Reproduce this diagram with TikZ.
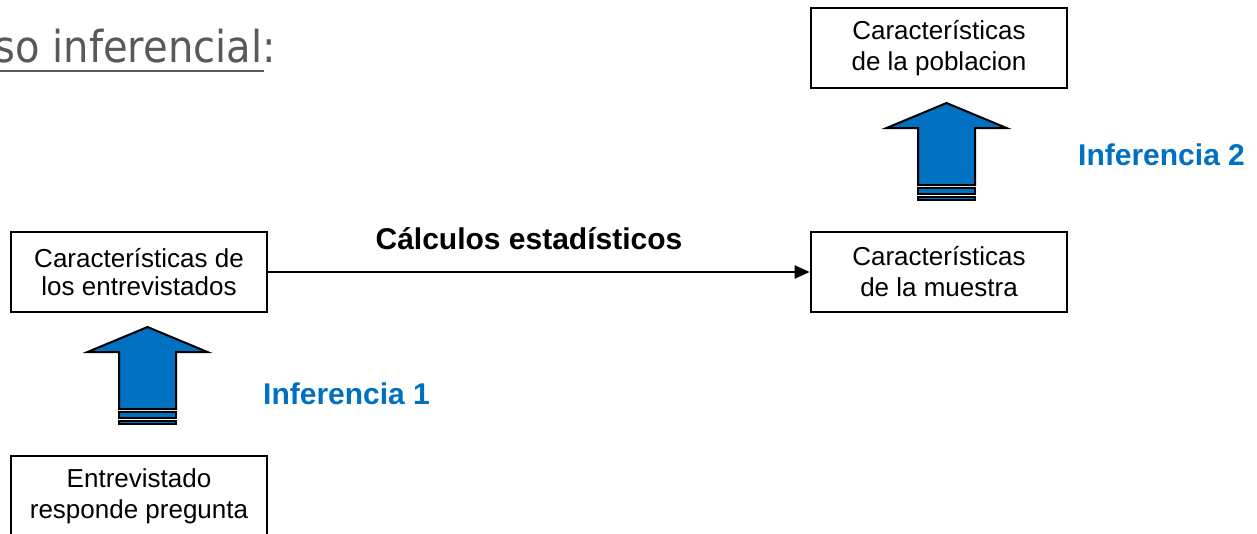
\documentclass[tikz,border=0pt]{standalone}
\usepackage{fontspec}
\setmainfont{Liberation Sans}
\newfontfamily\titlefont{DejaVu Sans}
\usetikzlibrary{arrows.meta}
\definecolor{bluearrow}{HTML}{0070C0}
\definecolor{titlegray}{HTML}{595959}
\begin{document}
\begin{tikzpicture}[x=1pt,y=-1pt,
  box/.style={draw,line width=2.7pt,minimum width=256pt,minimum height=80pt,inner sep=0pt,align=center,font=\fontsize{26}{31}\selectfont},
  blk/.style={fill=bluearrow,draw=black,line width=2pt,line join=miter},
  stripe/.style={fill=bluearrow,draw=black,line width=1.5pt},
  inf/.style={text=bluearrow,font=\fontsize{30}{36}\selectfont\bfseries,anchor=west,inner sep=0pt}]
\useasboundingbox (0,0) rectangle (1257,533);
\clip (0,0) rectangle (1257,533);

% title
\node[anchor=base east,text=titlegray,inner sep=0pt] (title) at (276,62)
  {\titlefont\fontsize{44}{50}\selectfont\scalebox{0.91}[1]{so inferencial:}};
\draw[titlegray,line width=2.5pt] (0,71) -- (264,71);

% boxes
\node[box] (pob) at (939,48) {Características\\de la poblacion};
\node[box] (muestra) at (939,272) {Características\\de la muestra};
\node[box,font=\fontsize{26}{28}\selectfont] (entrev) at (139,272) {Características de\\los entrevistados};
\node[box] (resp) at (139,496) {Entrevistado\\responde pregunta};

% connector
\draw[line width=2pt,-{Triangle[length=15pt,width=13pt]}] (entrev.east) -- (muestra.west);
\node[font=\fontsize{30}{36}\selectfont\bfseries,anchor=base,inner sep=0pt] (calc) at (529,249) {Cálculos estadísticos};

% block arrows
\coordinate (apex1) at (147.5,327);
\coordinate (apex2) at (946.5,103);
\foreach \a in {apex1,apex2}{
  \begin{scope}[shift={(\a)}]
    \draw[blk] (0,0) -- (60,25) -- (28.5,25) -- (28.5,82) -- (-28.5,82) -- (-28.5,25) -- (-60,25) -- cycle;
    \draw[stripe] (-28.5,85) rectangle (28.5,91);
    \draw[stripe] (-28.5,94) rectangle (28.5,97);
  \end{scope}
}

\node[inf] (inf1) at (263,394) {Inferencia 1};
\node[inf] (inf2) at (1078,155) {Inferencia 2};
\end{tikzpicture}
\end{document}
